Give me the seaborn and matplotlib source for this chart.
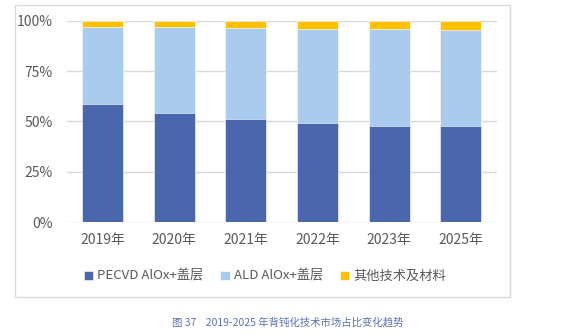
import numpy as np
import pandas as pd
import matplotlib
matplotlib.use("Agg")
import matplotlib.pyplot as plt
from matplotlib.patches import Rectangle
import seaborn as sns

categories = ["2019年", "2020年", "2021年", "2022年", "2023年", "2025年"]
pecvd = [58.6, 54.3, 51.3, 49.0, 47.8, 47.5]
ald = [38.4, 42.4, 44.9, 46.9, 47.9, 47.9]
other = [3.0, 3.3, 3.8, 4.1, 4.3, 4.6]
series_names = ["PECVD AlOx+盖层", "ALD AlOx+盖层", "其他技术及材料"]
colors = ["#4A66AC", "#A9CBEE", "#FFC000"]
y_ticks = [0, 25, 50, 75, 100]
y_labels = ["0%", "25%", "50%", "75%", "100%"]
caption = "图 37    2019-2025 年背钝化技术市场占比变化趋势"

sns.set_theme(style="white")
plt.rcParams["font.family"] = ["Noto Sans CJK SC", "DejaVu Sans"]

W, H = 581, 336
fig = plt.figure(figsize=(W / 100, H / 100), dpi=100)
ax = fig.add_axes([66.7 / W, 1 - 222 / H, 430 / W, (222 - 20.7) / H])

df = pd.DataFrame({"cat": categories, "p": pecvd, "a": ald, "o": other})
df["c1"] = df["p"]
df["c2"] = df["p"] + df["a"]
df["c3"] = df["c2"] + df["o"]

for col, color, name in zip(["c3", "c2", "c1"], colors[::-1], series_names[::-1]):
    sns.barplot(data=df, x="cat", y=col, color=color, width=0.57, ax=ax,
                saturation=1, label=name, edgecolor="white", linewidth=0.4, zorder=3)

ax.set_ylim(0, 100)
ax.set_xlim(-0.5, 5.5)
ax.set_yticks(y_ticks)
ax.set_yticklabels(y_labels)
ax.yaxis.grid(True, color="#d9d9d9", linewidth=1, zorder=0)
ax.set_axisbelow(True)
for s in ax.spines.values():
    s.set_visible(False)
ax.set_xlabel("")
ax.set_ylabel("")
ax.tick_params(axis="both", length=0, labelsize=10, labelcolor="#595959")
ax.tick_params(axis="y", pad=10)
ax.tick_params(axis="x", pad=8)

handles, labels = ax.get_legend_handles_labels()
order = [labels.index(n) for n in series_names]
leg = ax.legend([handles[i] for i in order], [labels[i] for i in order],
                loc="center", bbox_to_anchor=(0.461, -0.27), ncol=3, frameon=False,
                handlelength=0.7, handleheight=0.7, handletextpad=0.3,
                columnspacing=1.3, fontsize=9.5)
for t in leg.get_texts():
    t.set_color("#595959")

fig.patches.append(Rectangle((15 / W, 1 - 297 / H), 495 / W, 292 / H,
                             transform=fig.transFigure, fill=False,
                             edgecolor="#d9d9d9", linewidth=1))

fig.text(171.7 / W, 1 - 322 / H, caption, ha="left", va="center",
         fontsize=7.5, color="#5B73B8")

fig.savefig("out.png", dpi=100)
